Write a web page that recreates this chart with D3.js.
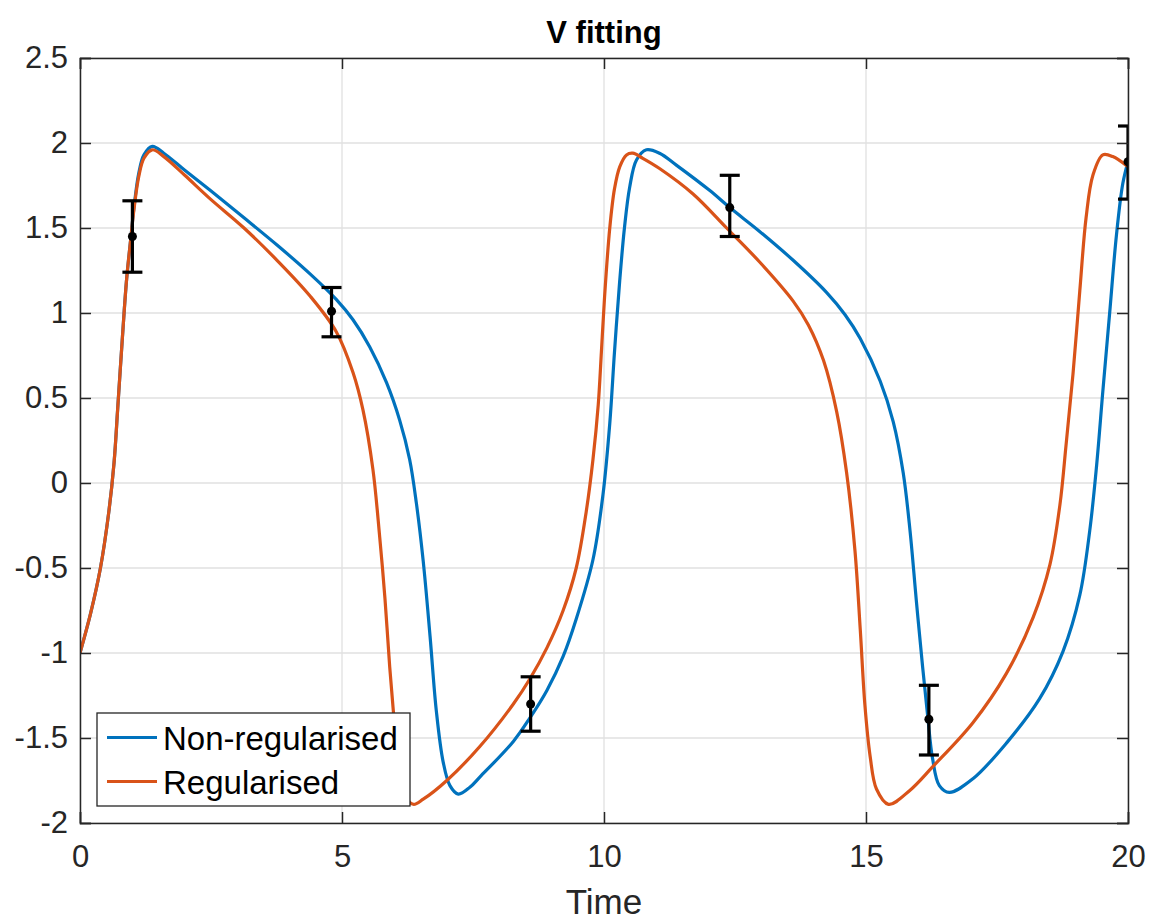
<!DOCTYPE html>
<html>
<head>
<meta charset="utf-8">
<script src="https://cdn.jsdelivr.net/npm/d3@7"></script>
<style>
  body { margin: 0; background: #fff; }
  text { font-family: "Liberation Sans", Arial, sans-serif; }
</style>
</head>
<body>
<div id="chart"></div>
<script>
// valores (tempo, V)
const nonRegularised = [
  [0, -1], [0.2, -0.77], [0.39, -0.5], [0.55, -0.17], [0.65, 0.12], [0.72, 0.44],
  [0.81, 0.86], [0.89, 1.2], [0.97, 1.44], [1.03, 1.62], [1.12, 1.82], [1.22, 1.93],
  [1.38, 1.98], [1.6, 1.94], [2.0, 1.84], [2.49, 1.72], [3.13, 1.56], [3.76, 1.4], [4.39, 1.23],
  [4.89, 1.08], [5.21, 0.96], [5.53, 0.8], [5.85, 0.59], [6.1, 0.37],
  [6.29, 0.14], [6.42, -0.12], [6.55, -0.46], [6.68, -0.9], [6.8, -1.34], [6.93, -1.64],
  [7.06, -1.78], [7.22, -1.83], [7.44, -1.79], [7.63, -1.73], [8.27, -1.52], [8.59, -1.38],
  [8.91, -1.22], [9.22, -1.02], [9.47, -0.8], [9.79, -0.45], [9.98, -0.07], [10.11, 0.35],
  [10.2, 0.77], [10.3, 1.19], [10.39, 1.5], [10.49, 1.74], [10.62, 1.9], [10.81, 1.96],
  [11.06, 1.94], [11.38, 1.87], [12.02, 1.72], [12.4, 1.62], [12.97, 1.48], [13.61, 1.31],
  [14.25, 1.12], [14.6, 0.99], [14.89, 0.85], [15.27, 0.6], [15.52, 0.36],
  [15.71, 0.06], [15.84, -0.28], [15.96, -0.69], [16.08, -1.08], [16.18, -1.38], [16.27, -1.62],
  [16.4, -1.78], [16.59, -1.82], [17.04, -1.74], [17.68, -1.53], [18.31, -1.27], [18.76, -0.99],
  [19.08, -0.66], [19.27, -0.28], [19.4, 0.1], [19.52, 0.54], [19.65, 1.0], [19.78, 1.46],
  [19.9, 1.76], [20, 1.89]
];

const regularised = [
  [0, -1], [0.2, -0.77], [0.39, -0.5], [0.55, -0.17], [0.65, 0.12], [0.72, 0.44],
  [0.81, 0.86], [0.89, 1.2], [0.97, 1.44], [1.03, 1.61], [1.12, 1.8], [1.22, 1.91],
  [1.38, 1.96], [1.6, 1.92], [2.0, 1.81], [2.49, 1.67], [3.13, 1.5], [3.76, 1.31],
  [4.39, 1.1], [4.89, 0.89], [5.21, 0.65], [5.4, 0.43], [5.59, 0.08],
  [5.72, -0.32], [5.82, -0.68], [5.91, -1.08], [5.99, -1.38], [6.07, -1.64], [6.17, -1.82],
  [6.36, -1.89], [6.55, -1.86], [7.0, -1.75], [7.63, -1.55], [8.27, -1.3], [8.59, -1.15],
  [8.91, -0.97], [9.22, -0.75], [9.47, -0.5], [9.66, -0.17], [9.79, 0.14], [9.89, 0.46],
  [9.95, 0.77], [10.01, 1.09], [10.11, 1.5], [10.2, 1.73], [10.3, 1.86], [10.43, 1.93],
  [10.55, 1.94], [10.74, 1.91], [11.06, 1.85], [11.7, 1.7], [12.34, 1.5], [12.97, 1.3],
  [13.61, 1.07], [13.9, 0.93], [14.19, 0.72], [14.44, 0.42], [14.63, 0.06],
  [14.79, -0.4], [14.89, -0.86], [14.98, -1.31], [15.08, -1.61], [15.2, -1.8], [15.43, -1.89],
  [15.83, -1.81], [16.27, -1.67], [17.04, -1.41], [17.68, -1.12], [18.19, -0.79],
  [18.51, -0.48], [18.7, -0.13], [18.82, 0.23], [18.95, 0.64], [19.08, 1.13], [19.2, 1.56],
  [19.33, 1.81], [19.52, 1.93], [19.71, 1.92], [20, 1.86]
];

// pontos medidos com barras de erro
const obsTime = [1, 4.8, 8.6, 12.4, 16.2, 20];
const obsValue = [1.45, 1.01, -1.3, 1.62, -1.39, 1.89];
const obsLow = [1.24, 0.86, -1.46, 1.45, -1.6, 1.67];
const obsHigh = [1.66, 1.15, -1.14, 1.81, -1.19, 2.1];

const xTicks = [0, 5, 10, 15, 20];
const yTicks = [-2, -1.5, -1, -0.5, 0, 0.5, 1, 1.5, 2, 2.5];
const seriesNames = ["Non-regularised", "Regularised"];
const seriesColors = ["#0072BD", "#D95319"];

const W = 1156, H = 923;
const margin = {top: 58, right: 28, bottom: 100, left: 80};
const width = W - margin.left - margin.right;
const height = H - margin.top - margin.bottom;
const axisColor = "#262626";

const svg = d3.select("#chart").append("svg")
    .attr("width", W)
    .attr("height", H);

const g = svg.append("g")
    .attr("transform", `translate(${margin.left},${margin.top})`);

const x = d3.scaleLinear().domain([0, 20]).range([0, width]);
const y = d3.scaleLinear().domain([-2, 2.5]).range([height, 0]);

svg.append("defs").append("clipPath").attr("id", "plot-clip")
    .append("rect").attr("width", width).attr("height", height);

// grade
g.append("g").selectAll("line").data(xTicks).enter().append("line")
    .attr("x1", d => x(d)).attr("x2", d => x(d))
    .attr("y1", 0).attr("y2", height)
    .attr("stroke", "#e0e0e0").attr("stroke-width", 1.3);
g.append("g").selectAll("line").data(yTicks).enter().append("line")
    .attr("x1", 0).attr("x2", width)
    .attr("y1", d => y(d)).attr("y2", d => y(d))
    .attr("stroke", "#e0e0e0").attr("stroke-width", 1.3);

const plot = g.append("g").attr("clip-path", "url(#plot-clip)");

const line = d3.line()
    .x(d => x(d[0]))
    .y(d => y(d[1]))
    .curve(d3.curveCatmullRom.alpha(0.5));

[nonRegularised, regularised].forEach((serie, i) => {
    plot.append("path")
        .datum(serie)
        .attr("d", line)
        .attr("fill", "none")
        .attr("stroke", seriesColors[i])
        .attr("stroke-width", 3.2)
        .attr("stroke-linejoin", "round");
});

// barras de erro
const obs = obsTime.map((t, i) => ({t: t, v: obsValue[i], lo: obsLow[i], hi: obsHigh[i]}));
const capW = 10;
const eb = plot.append("g").selectAll("g").data(obs).enter().append("g");
eb.append("line")
    .attr("x1", d => x(d.t)).attr("x2", d => x(d.t))
    .attr("y1", d => y(d.lo)).attr("y2", d => y(d.hi))
    .attr("stroke", "#000").attr("stroke-width", 3.2);
eb.append("line")
    .attr("x1", d => x(d.t) - capW).attr("x2", d => x(d.t) + capW)
    .attr("y1", d => y(d.lo)).attr("y2", d => y(d.lo))
    .attr("stroke", "#000").attr("stroke-width", 3.2);
eb.append("line")
    .attr("x1", d => x(d.t) - capW).attr("x2", d => x(d.t) + capW)
    .attr("y1", d => y(d.hi)).attr("y2", d => y(d.hi))
    .attr("stroke", "#000").attr("stroke-width", 3.2);
eb.append("circle")
    .attr("cx", d => x(d.t)).attr("cy", d => y(d.v))
    .attr("r", 4.5).attr("fill", "#000");

// eixos
const fmt = d => String(d);
const axisBottomG = g.append("g")
    .attr("transform", `translate(0,${height})`)
    .call(d3.axisBottom(x).tickValues(xTicks).tickFormat(fmt).tickSize(-11).tickPadding(22));
const axisLeftG = g.append("g")
    .call(d3.axisLeft(y).tickValues(yTicks).tickFormat(fmt).tickSize(-11).tickPadding(12));
const axisTopG = g.append("g")
    .call(d3.axisTop(x).tickValues(xTicks).tickFormat("").tickSize(-11));
const axisRightG = g.append("g")
    .attr("transform", `translate(${width},0)`)
    .call(d3.axisRight(y).tickValues(yTicks).tickFormat("").tickSize(-11));

[axisBottomG, axisLeftG, axisTopG, axisRightG].forEach(a => {
    a.select(".domain").attr("stroke", axisColor).attr("stroke-width", 1.5);
    a.selectAll(".tick line").attr("stroke", axisColor).attr("stroke-width", 1.5);
    a.selectAll(".tick text")
        .attr("fill", axisColor)
        .style("font-size", "31px")
        .style("font-family", "'Liberation Sans', Arial, sans-serif");
});

// rótulo do eixo e título
svg.append("text")
    .attr("x", margin.left + width / 2)
    .attr("y", 914)
    .attr("text-anchor", "middle")
    .attr("fill", axisColor)
    .style("font-size", "35px")
    .text("Time");

svg.append("text")
    .attr("x", margin.left + width / 2)
    .attr("y", 43)
    .attr("text-anchor", "middle")
    .attr("fill", "#000")
    .style("font-size", "31px")
    .style("font-weight", "bold")
    .text("V fitting");

// legenda
const leg = g.append("g").attr("transform", `translate(${97 - margin.left},${713 - margin.top})`);
leg.append("rect")
    .attr("width", 313).attr("height", 93)
    .attr("fill", "#fff")
    .attr("stroke", axisColor).attr("stroke-width", 1.3);
seriesNames.forEach((name, i) => {
    const yy = 24.5 + i * 44;
    leg.append("line")
        .attr("x1", 10).attr("x2", 60)
        .attr("y1", yy).attr("y2", yy)
        .attr("stroke", seriesColors[i]).attr("stroke-width", 3.2);
    leg.append("text")
        .attr("x", 66).attr("y", yy + 12)
        .attr("fill", "#000")
        .style("font-size", "33px")
        .text(name);
});
</script>
</body>
</html>
